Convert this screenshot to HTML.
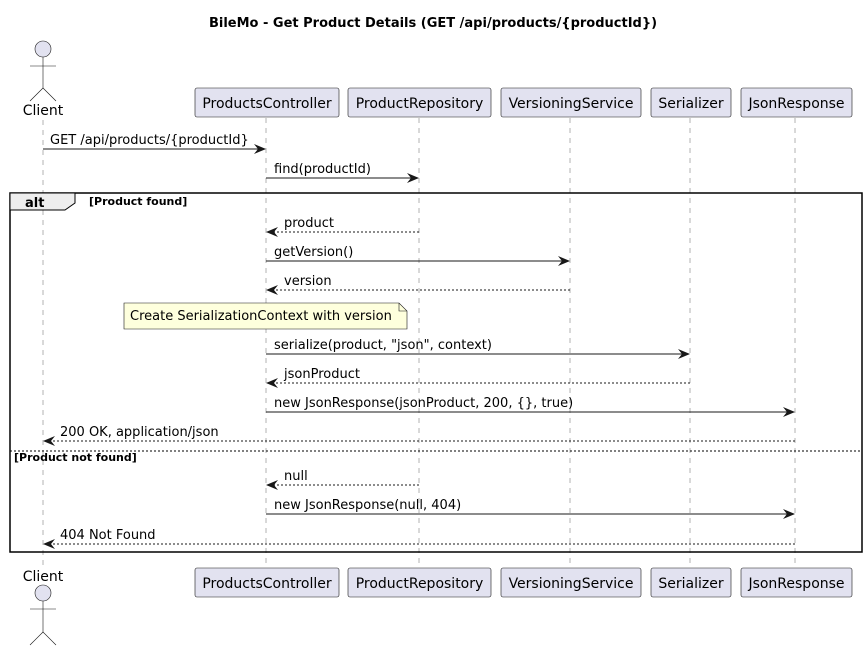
<!DOCTYPE html>
<html><head><meta charset="utf-8"><style>
html,body{margin:0;padding:0;background:#fff;}
svg{display:block;font-family:"DejaVu Sans","Liberation Sans",sans-serif;}
</style></head><body>
<svg width="867" height="649" viewBox="0 0 867 649" xmlns="http://www.w3.org/2000/svg">
<defs>
<marker id="a" viewBox="0 0 12 10" refX="11" refY="5" markerWidth="12" markerHeight="10" markerUnits="userSpaceOnUse" orient="auto">
<path d="M0,0 L12,5 L0,10 L4,5 Z" fill="#181818"/></marker>
</defs>
<text x="433" y="27" text-anchor="middle" font-size="13" font-weight="bold" fill="#000">BileMo - Get Product Details (GET /api/products/{productId})</text>
<g stroke="#666" stroke-width="0.5" stroke-dasharray="5,5">
<line x1="43" y1="120" x2="43" y2="566"/>
<line x1="266" y1="118" x2="266" y2="568"/>
<line x1="419" y1="118" x2="419" y2="568"/>
<line x1="570" y1="118" x2="570" y2="568"/>
<line x1="690" y1="118" x2="690" y2="568"/>
<line x1="795" y1="118" x2="795" y2="568"/>
</g>
<g stroke="#181818" stroke-width="0.6" fill="#E2E2F0">
<circle cx="43" cy="49" r="8"/>
<line x1="43" y1="57" x2="43" y2="88" fill="none"/>
<line x1="30" y1="66" x2="56" y2="66"/>
<line x1="43" y1="88" x2="30" y2="101"/>
<line x1="43" y1="88" x2="56" y2="101"/>
<circle cx="43" cy="593" r="8"/>
<line x1="43" y1="601" x2="43" y2="632"/>
<line x1="30" y1="609" x2="56" y2="609"/>
<line x1="43" y1="632" x2="30" y2="645"/>
<line x1="43" y1="632" x2="56" y2="645"/>
</g>
<g font-size="14" fill="#000">
<text x="43" y="115" text-anchor="middle">Client</text>
<text x="43" y="581" text-anchor="middle">Client</text>
</g>
<g stroke="#181818" stroke-width="0.6" fill="#E2E2F0">
<rect x="195" y="88" width="144" height="29" rx="2"/>
<rect x="348" y="88" width="143" height="29" rx="2"/>
<rect x="501" y="88" width="140" height="29" rx="2"/>
<rect x="651" y="88" width="80" height="29" rx="2"/>
<rect x="741" y="88" width="111" height="29" rx="2"/>
<rect x="195" y="568" width="144" height="29" rx="2"/>
<rect x="348" y="568" width="143" height="29" rx="2"/>
<rect x="501" y="568" width="140" height="29" rx="2"/>
<rect x="651" y="568" width="80" height="29" rx="2"/>
<rect x="741" y="568" width="111" height="29" rx="2"/>
</g>
<g font-size="14" fill="#000" text-anchor="middle">
<text x="267" y="108">ProductsController</text>
<text x="419.5" y="108">ProductRepository</text>
<text x="571" y="108">VersioningService</text>
<text x="691" y="108">Serializer</text>
<text x="796.5" y="108">JsonResponse</text>
<text x="267" y="588">ProductsController</text>
<text x="419.5" y="588">ProductRepository</text>
<text x="571" y="588">VersioningService</text>
<text x="691" y="588">Serializer</text>
<text x="796.5" y="588">JsonResponse</text>
</g>
<rect x="10" y="193" width="852" height="359" fill="none" stroke="#000" stroke-width="1.5"/>
<path d="M10,193 L75,193 L75,203 L65,210 L10,210 Z" fill="#EEEEEE" stroke="#000" stroke-width="1"/>
<text x="25" y="207" font-size="13" font-weight="bold">alt</text>
<text x="89" y="205" font-size="11" font-weight="bold">[Product found]</text>
<line x1="10" y1="451" x2="862" y2="451" stroke="#000" stroke-width="1" stroke-dasharray="2,2"/>
<text x="14" y="461" font-size="11" font-weight="bold">[Product not found]</text>
<path d="M124,303 L399,303 L407,311 L407,329 L124,329 Z" fill="#FEFFDD" stroke="#181818" stroke-width="0.6"/>
<path d="M399,303 L399,311 L407,311" fill="none" stroke="#181818" stroke-width="0.6"/>
<text x="130" y="320" font-size="13">Create SerializationContext with version</text>
<g stroke="#181818" stroke-width="1" fill="none">
<line x1="43" y1="149" x2="265" y2="149" marker-end="url(#a)"/>
<line x1="266" y1="178" x2="418" y2="178" marker-end="url(#a)"/>
<line x1="419" y1="232" x2="267" y2="232" stroke-dasharray="2,2" marker-end="url(#a)"/>
<line x1="266" y1="261" x2="569" y2="261" marker-end="url(#a)"/>
<line x1="570" y1="290" x2="267" y2="290" stroke-dasharray="2,2" marker-end="url(#a)"/>
<line x1="266" y1="354" x2="689" y2="354" marker-end="url(#a)"/>
<line x1="690" y1="383" x2="267" y2="383" stroke-dasharray="2,2" marker-end="url(#a)"/>
<line x1="266" y1="412" x2="794" y2="412" marker-end="url(#a)"/>
<line x1="795" y1="441" x2="44" y2="441" stroke-dasharray="2,2" marker-end="url(#a)"/>
<line x1="419" y1="485" x2="267" y2="485" stroke-dasharray="2,2" marker-end="url(#a)"/>
<line x1="266" y1="514" x2="794" y2="514" marker-end="url(#a)"/>
<line x1="795" y1="544" x2="44" y2="544" stroke-dasharray="2,2" marker-end="url(#a)"/>
</g>
<g font-size="13" fill="#000">
<text x="50" y="144">GET /api/products/{productId}</text>
<text x="274" y="173">find(productId)</text>
<text x="284" y="227">product</text>
<text x="274" y="256">getVersion()</text>
<text x="284" y="285">version</text>
<text x="274" y="349">serialize(product, "json", context)</text>
<text x="284" y="378">jsonProduct</text>
<text x="274" y="407">new JsonResponse(jsonProduct, 200, {}, true)</text>
<text x="60" y="436">200 OK, application/json</text>
<text x="284" y="480">null</text>
<text x="274" y="509">new JsonResponse(null, 404)</text>
<text x="60" y="539">404 Not Found</text>
</g>
</svg>
</body></html>
